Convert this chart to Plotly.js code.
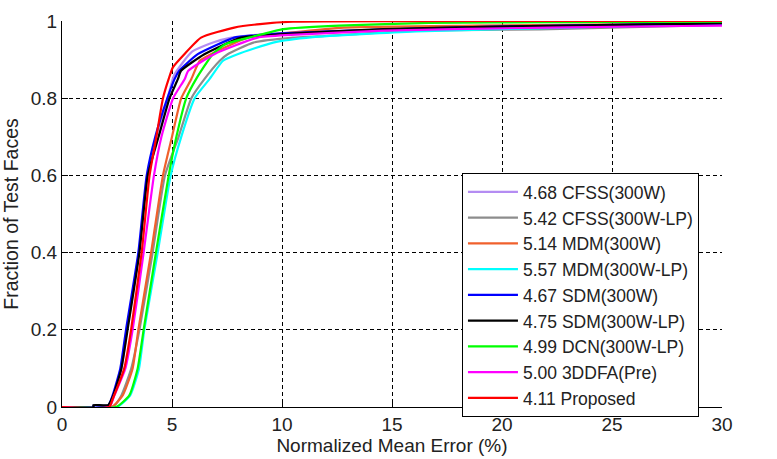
<!DOCTYPE html>
<html>
<head>
<meta charset="utf-8">
<script src="https://cdn.plot.ly/plotly-3.0.1.min.js"></script>
<style>
  html, body { margin: 0; padding: 0; background: #fff; }
  #chart { width: 777px; height: 459px; }
</style>
</head>
<body>
<div id="chart"></div>
<script>
  // Cumulative error curves.
  // x = normalized mean error (%), y = fraction of test faces below it.

  const cfss300wX = [0, 2.15, 2.35, 2.7, 2.96, 3.5, 3.9, 4.28, 4.8, 5.1, 5.9, 6.9, 7.7, 9, 12, 16, 22, 30];
  const cfss300wY = [0, 0, 0.03, 0.1, 0.2, 0.4, 0.6, 0.7, 0.8, 0.86, 0.92, 0.945, 0.957, 0.965, 0.974, 0.98, 0.986, 0.99];

  const cfssLpX = [0, 2.3, 2.7, 3.15, 3.52, 4.12, 4.68, 5.3, 5.88, 6.48, 7.17, 7.53, 8.7, 10.5, 11.6, 16.1, 22.2, 30];
  const cfssLpY = [0, 0, 0.03, 0.1, 0.2, 0.4, 0.6, 0.7, 0.8, 0.85, 0.897, 0.914, 0.944, 0.957, 0.96, 0.975, 0.979, 0.99];

  const mdm300wX = [0, 2.25, 2.76, 3.21, 3.47, 4.05, 4.59, 5.0, 5.42, 5.88, 6.26, 6.77, 8.44, 10.4, 12.8, 18.8, 29.5, 30];
  const mdm300wY = [0, 0, 0.03, 0.1, 0.2, 0.4, 0.6, 0.7, 0.8, 0.85, 0.897, 0.914, 0.957, 0.97, 0.983, 0.988, 0.993, 0.993];

  const mdmLpX = [0, 2.5, 3.1, 3.5, 3.74, 4.35, 4.94, 5.42, 6.03, 6.71, 7.32, 7.98, 9.6, 11.4, 16.1, 26, 30];
  const mdmLpY = [0, 0, 0.03, 0.1, 0.2, 0.4, 0.6, 0.7, 0.8, 0.85, 0.897, 0.914, 0.944, 0.958, 0.973, 0.987, 0.992];

  const sdm300wX = [0, 1.43, 1.43, 2.1, 2.3, 2.65, 2.91, 3.47, 3.85, 4.24, 4.79, 5.12, 5.33, 6.17, 7.83, 8.6, 10.0, 14.6, 19.2, 25, 30];
  const sdm300wY = [0, 0, 0.004, 0.004, 0.03, 0.1, 0.2, 0.4, 0.6, 0.7, 0.8, 0.85, 0.871, 0.914, 0.957, 0.962, 0.968, 0.978, 0.985, 0.99, 0.994];

  const sdmLpX = [0, 1.43, 1.43, 2.1, 2.33, 2.7, 2.98, 3.52, 3.9, 4.39, 4.89, 5.27, 5.41, 6.47, 8.14, 10.0, 14.6, 19.2, 25.2, 30];
  const sdmLpY = [0, 0, 0.005, 0.005, 0.03, 0.1, 0.2, 0.4, 0.6, 0.7, 0.8, 0.85, 0.871, 0.914, 0.957, 0.966, 0.979, 0.985, 0.99, 0.994];

  const dcnLpX = [0, 2.45, 3.06, 3.44, 3.71, 4.27, 4.85, 5.2, 5.65, 6.1, 6.85, 7.42, 8.7, 10.06, 12.6, 16.7, 22.2, 30];
  const dcnLpY = [0, 0, 0.03, 0.1, 0.2, 0.4, 0.6, 0.7, 0.8, 0.85, 0.914, 0.94, 0.96, 0.979, 0.988, 0.995, 0.997, 0.998];

  const ddfaX = [0, 2.15, 2.38, 2.88, 3.21, 3.71, 4.18, 4.52, 5.05, 5.58, 5.74, 6.92, 8.89, 10.4, 14.6, 22.2, 28.2, 30];
  const ddfaY = [0, 0, 0.03, 0.1, 0.2, 0.4, 0.6, 0.7, 0.8, 0.85, 0.871, 0.914, 0.957, 0.964, 0.975, 0.983, 0.987, 0.988];

  const proposedX = [0, 2.15, 2.3, 2.83, 3.14, 3.62, 3.98, 4.29, 4.59, 4.85, 5.04, 5.56, 6.32, 7.83, 9.0, 10.5, 30];
  const proposedY = [0, 0, 0.02, 0.1, 0.2, 0.4, 0.6, 0.7, 0.8, 0.85, 0.88, 0.914, 0.957, 0.983, 0.992, 0.998, 1];

  // Legend order is also drawing order: the proposed method ends up on top.
  const methodNames = [
    "4.68 CFSS(300W)",
    "5.42 CFSS(300W-LP)",
    "5.14 MDM(300W)",
    "5.57 MDM(300W-LP)",
    "4.67 SDM(300W)",
    "4.75 SDM(300W-LP)",
    "4.99 DCN(300W-LP)",
    "5.00 3DDFA(Pre)",
    "4.11 Proposed",
  ];
  const methodColors = [
    "#b48cf2", "#8c8c8c", "#f0602c", "#00ffff", "#0000ff",
    "#000000", "#00ff00", "#ff00ff", "#ff0000",
  ];
  const xTicks = [0, 5, 10, 15, 20, 25, 30];
  const yTicks = [0, 0.2, 0.4, 0.6, 0.8, 1];

  (function () {
    "use strict";

    const xs = [cfss300wX, cfssLpX, mdm300wX, mdmLpX, sdm300wX, sdmLpX, dcnLpX, ddfaX, proposedX];
    const ys = [cfss300wY, cfssLpY, mdm300wY, mdmLpY, sdm300wY, sdmLpY, dcnLpY, ddfaY, proposedY];

    const traces = methodNames.map(function (name, i) {
      return {
        x: xs[i],
        y: ys[i],
        name: name,
        type: "scatter",
        mode: "lines",
        // a light spline rounds the knees the way the original step curves read
        line: { color: methodColors[i], width: 2.2, shape: "spline", smoothing: 0.5 },
        hoverinfo: "skip",
      };
    });

    const FONT = "Liberation Sans, Arial, Helvetica, sans-serif";
    const INK = "#222";

    // MATLAB look: solid left/bottom axes, dashed black grid, inward ticks.
    const AXIS = {
      showline: true,
      linecolor: "#000",
      linewidth: 1,
      mirror: false,
      ticks: "inside",
      ticklen: 6,
      tickcolor: "#000",
      showgrid: true,
      gridcolor: "#000",
      gridwidth: 1,
      griddash: "4px,3px",
      zeroline: false,
      fixedrange: true,
      tickfont: { family: FONT, size: 19, color: INK },
    };

    const layout = {
      width: 777,
      height: 459,
      margin: { l: 62, r: 55, t: 21, b: 52 },
      paper_bgcolor: "#fff",
      plot_bgcolor: "#fff",
      font: { family: FONT, color: INK, size: 18 },
      xaxis: Object.assign({}, AXIS, {
        range: [0, 30],
        tickmode: "array",
        tickvals: xTicks,
        ticktext: xTicks.map(String),
        title: { text: "Normalized Mean Error (%)", font: { family: FONT, size: 19, color: INK }, standoff: 4 },
      }),
      yaxis: Object.assign({}, AXIS, {
        range: [0, 1],
        tickmode: "array",
        tickvals: yTicks,
        ticktext: yTicks.map(String),
        title: { text: "Fraction of Test Faces", font: { family: FONT, size: 19.5, color: INK }, standoff: 8 },
      }),
      showlegend: true,
      legend: {
        x: 0.606,
        y: 0.606,
        xanchor: "left",
        yanchor: "top",
        bgcolor: "#fff",
        bordercolor: "#000",
        borderwidth: 1,
        itemwidth: 50,
        traceorder: "normal",
        font: { family: FONT, size: 17.5, color: INK },
      },
      hovermode: false,
    };

    Plotly.newPlot("chart", traces, layout, { displayModeBar: false, staticPlot: true });
  })();
</script>
</body>
</html>
